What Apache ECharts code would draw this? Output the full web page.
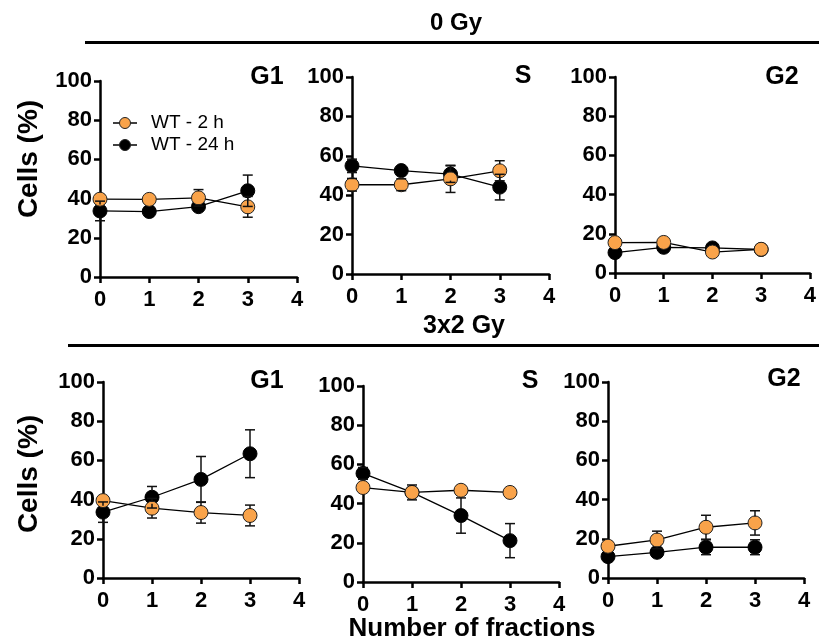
<!DOCTYPE html>
<html>
<head>
<meta charset="utf-8">
<script src="https://cdn.jsdelivr.net/npm/echarts@6/dist/echarts.min.js"></script>
<style>html,body{margin:0;padding:0;background:#fff;}#c{width:819px;height:644px;}</style>
</head>
<body>
<div id="c"></div>
<script>
// ---- data ----
var fractions = [0, 1, 2, 3];
var xTicks = [0, 1, 2, 3, 4];
var yTicks = [0, 20, 40, 60, 80, 100];
var seriesNames = ['WT - 2 h', 'WT - 24 h'];

// 0 Gy
var g1_0Gy_2h = [39.7, 39.6, 40.4, 35.8];
var g1_0Gy_2h_err = [1.5, 1.5, 4.2, 5.3];
var g1_0Gy_24h = [33.7, 33.4, 35.9, 44.0];
var g1_0Gy_24h_err = [5.0, 1.0, 2.5, 8.0];

var s_0Gy_2h = [45.3, 45.3, 48.3, 52.4];
var s_0Gy_2h_err = [3.2, 3.0, 6.9, 5.1];
var s_0Gy_24h = [54.9, 52.5, 50.7, 44.1];
var s_0Gy_24h_err = [3.4, 1.0, 4.2, 6.5];

var g2_0Gy_2h = [15.5, 15.6, 10.7, 12.1];
var g2_0Gy_2h_err = [1.0, 1.0, 1.0, 1.0];
var g2_0Gy_24h = [10.4, 13.1, 12.8, 12.0];
var g2_0Gy_24h_err = [1.0, 1.0, 1.0, 1.0];

// 3x2 Gy
var g1_3x2Gy_2h = [39.5, 35.6, 33.4, 31.9];
var g1_3x2Gy_2h_err = [2.0, 5.0, 5.4, 5.3];
var g1_3x2Gy_24h = [33.6, 41.2, 50.3, 63.4];
var g1_3x2Gy_24h_err = [5.2, 5.5, 11.7, 12.2];

var s_3x2Gy_2h = [48.2, 45.7, 46.8, 45.7];
var s_3x2Gy_2h_err = [1.5, 1.5, 1.5, 1.5];
var s_3x2Gy_24h = [55.4, 45.7, 33.9, 21.1];
var s_3x2Gy_24h_err = [3.0, 3.8, 9.0, 8.7];

var g2_3x2Gy_2h = [16.2, 19.4, 25.9, 28.1];
var g2_3x2Gy_2h_err = [1.5, 4.5, 6.1, 6.2];
var g2_3x2Gy_24h = [10.9, 13.1, 15.7, 15.7];
var g2_3x2Gy_24h_err = [1.0, 1.0, 3.8, 3.8];

// ---- layout ----
var ORANGE = '#F9A34A';
var FONT = '"Liberation Sans", Arial, sans-serif';
var R = 6.5;

var panels = [
  {title: 'G1', tx: 267, ty: 77, grid: {left: 100, top: 81, width: 197, height: 196}, a: g1_0Gy_2h, ae: g1_0Gy_2h_err, b: g1_0Gy_24h, be: g1_0Gy_24h_err},
  {title: 'S', tx: 523, ty: 76, grid: {left: 352, top: 77, width: 197, height: 197}, a: s_0Gy_2h, ae: s_0Gy_2h_err, b: s_0Gy_24h, be: s_0Gy_24h_err},
  {title: 'G2', tx: 782, ty: 77, grid: {left: 615, top: 77, width: 196, height: 196}, a: g2_0Gy_2h, ae: g2_0Gy_2h_err, b: g2_0Gy_24h, be: g2_0Gy_24h_err},
  {title: 'G1', tx: 267, ty: 381, grid: {left: 103, top: 382, width: 196, height: 196}, a: g1_3x2Gy_2h, ae: g1_3x2Gy_2h_err, b: g1_3x2Gy_24h, be: g1_3x2Gy_24h_err},
  {title: 'S', tx: 530, ty: 381, grid: {left: 363, top: 386, width: 196, height: 196}, a: s_3x2Gy_2h, ae: s_3x2Gy_2h_err, b: s_3x2Gy_24h, be: s_3x2Gy_24h_err},
  {title: 'G2', tx: 784, ty: 379, grid: {left: 608, top: 382, width: 196, height: 196}, a: g2_3x2Gy_2h, ae: g2_3x2Gy_2h_err, b: g2_3x2Gy_24h, be: g2_3x2Gy_24h_err}
];

function pairs(vals) { return fractions.map(function (x, i) { return [x, vals[i]]; }); }
function errData(vals, errs) { return fractions.map(function (x, i) { return [x, vals[i], errs[i]]; }); }

function errRender(params, api) {
  var x = api.value(0), y = api.value(1), e = api.value(2);
  var c = api.coord([x, y]);
  var top = api.coord([x, y + e]);
  var bot = api.coord([x, y - e]);
  var children = [];
  var st = {stroke: '#111', lineWidth: 1.5};
  var cap = 5;
  if (c[1] - top[1] > 5) {
    if (c[1] - top[1] > R) children.push({type: 'line', shape: {x1: c[0], y1: c[1] - R, x2: c[0], y2: top[1]}, style: st});
    children.push({type: 'line', shape: {x1: c[0] - cap, y1: top[1], x2: c[0] + cap, y2: top[1]}, style: st});
  }
  if (bot[1] - c[1] > 5) {
    if (bot[1] - c[1] > R) children.push({type: 'line', shape: {x1: c[0], y1: c[1] + R, x2: c[0], y2: bot[1]}, style: st});
    children.push({type: 'line', shape: {x1: c[0] - cap, y1: bot[1], x2: c[0] + cap, y2: bot[1]}, style: st});
  }
  return {type: 'group', children: children};
}

var grids = [], xAxes = [], yAxes = [], series = [], graphics = [];
var axisLine = {show: true, lineStyle: {color: '#000', width: 2.5}};
var axisTick = {show: true, length: 6, lineStyle: {color: '#000', width: 2.5}};

panels.forEach(function (p, k) {
  grids.push(p.grid);
  xAxes.push({type: 'value', gridIndex: k, min: xTicks[0], max: xTicks[xTicks.length - 1], interval: 1,
    axisLine: axisLine, axisTick: axisTick, splitLine: {show: false},
    axisLabel: {color: '#000', fontFamily: FONT, fontWeight: 'bold', fontSize: 22, margin: 12}});
  yAxes.push({type: 'value', gridIndex: k, min: yTicks[0], max: yTicks[yTicks.length - 1], interval: 20,
    axisLine: axisLine, axisTick: axisTick, splitLine: {show: false},
    axisLabel: {color: '#000', fontFamily: FONT, fontWeight: 'bold', fontSize: 22, margin: 8}});
  // connecting lines
  [p.b, p.a].forEach(function (vals) {
    series.push({type: 'line', xAxisIndex: k, yAxisIndex: k, data: pairs(vals), showSymbol: false, symbol: 'none',
      lineStyle: {color: '#000', width: 1.3}, z: 1, silent: true, animation: false});
  });
  // markers: black (24 h) under orange (2 h)
  series.push({type: 'scatter', name: seriesNames[1], xAxisIndex: k, yAxisIndex: k, data: pairs(p.b), symbol: 'circle', symbolSize: 14,
    itemStyle: {color: '#000', borderColor: '#000', borderWidth: 1, opacity: 1}, z: 2, animation: false});
  series.push({type: 'scatter', name: seriesNames[0], xAxisIndex: k, yAxisIndex: k, data: pairs(p.a), symbol: 'circle', symbolSize: 14,
    itemStyle: {color: ORANGE, borderColor: '#222', borderWidth: 1, opacity: 1}, z: 3, animation: false});
  // error bars
  series.push({type: 'custom', xAxisIndex: k, yAxisIndex: k, data: errData(p.b, p.be), renderItem: errRender, z: 4, animation: false, silent: true});
  series.push({type: 'custom', xAxisIndex: k, yAxisIndex: k, data: errData(p.a, p.ae), renderItem: errRender, z: 4, animation: false, silent: true});
  graphics.push({type: 'text', x: p.tx, y: p.ty, style: {text: p.title, font: 'bold 25px ' + FONT, fill: '#000', align: 'center', verticalAlign: 'middle'}});
});

// headings, separators, axis titles
graphics.push({type: 'text', x: 456, y: 23, style: {text: '0 Gy', font: 'bold 24px ' + FONT, fill: '#000', align: 'center', verticalAlign: 'middle'}});
graphics.push({type: 'line', shape: {x1: 85, y1: 42.5, x2: 819, y2: 42.5}, style: {stroke: '#000', lineWidth: 3}});
graphics.push({type: 'text', x: 464, y: 326, style: {text: '3x2 Gy', font: 'bold 25px ' + FONT, fill: '#000', align: 'center', verticalAlign: 'middle'}});
graphics.push({type: 'line', shape: {x1: 68, y1: 345.5, x2: 819, y2: 345.5}, style: {stroke: '#000', lineWidth: 3}});
graphics.push({type: 'text', x: 472, y: 629, style: {text: 'Number of fractions', font: 'bold 26px ' + FONT, fill: '#000', align: 'center', verticalAlign: 'middle'}});
graphics.push({type: 'text', x: 29, y: 159, rotation: Math.PI / 2, style: {text: 'Cells (%)', font: 'bold 28px ' + FONT, fill: '#000', align: 'center', verticalAlign: 'middle'}});
graphics.push({type: 'text', x: 29, y: 474, rotation: Math.PI / 2, style: {text: 'Cells (%)', font: 'bold 28px ' + FONT, fill: '#000', align: 'center', verticalAlign: 'middle'}});

// legend
var legendRows = [{name: seriesNames[0], fill: ORANGE, y: 123}, {name: seriesNames[1], fill: '#000', y: 145}];
legendRows.forEach(function (r) {
  graphics.push({type: 'line', shape: {x1: 113, y1: r.y, x2: 137, y2: r.y}, style: {stroke: '#000', lineWidth: 1.5}});
  graphics.push({type: 'circle', shape: {cx: 125, cy: r.y, r: 5.5}, style: {fill: r.fill, stroke: '#222', lineWidth: 1}});
  graphics.push({type: 'text', x: 151, y: r.y, style: {text: r.name, font: '19px ' + FONT, fill: '#000', align: 'left', verticalAlign: 'middle'}});
});

var chart = echarts.init(document.getElementById('c'), null, {renderer: 'canvas'});
chart.setOption({
  animation: false,
  backgroundColor: '#fff',
  grid: grids,
  xAxis: xAxes,
  yAxis: yAxes,
  series: series,
  graphic: graphics
});
</script>
</body>
</html>
